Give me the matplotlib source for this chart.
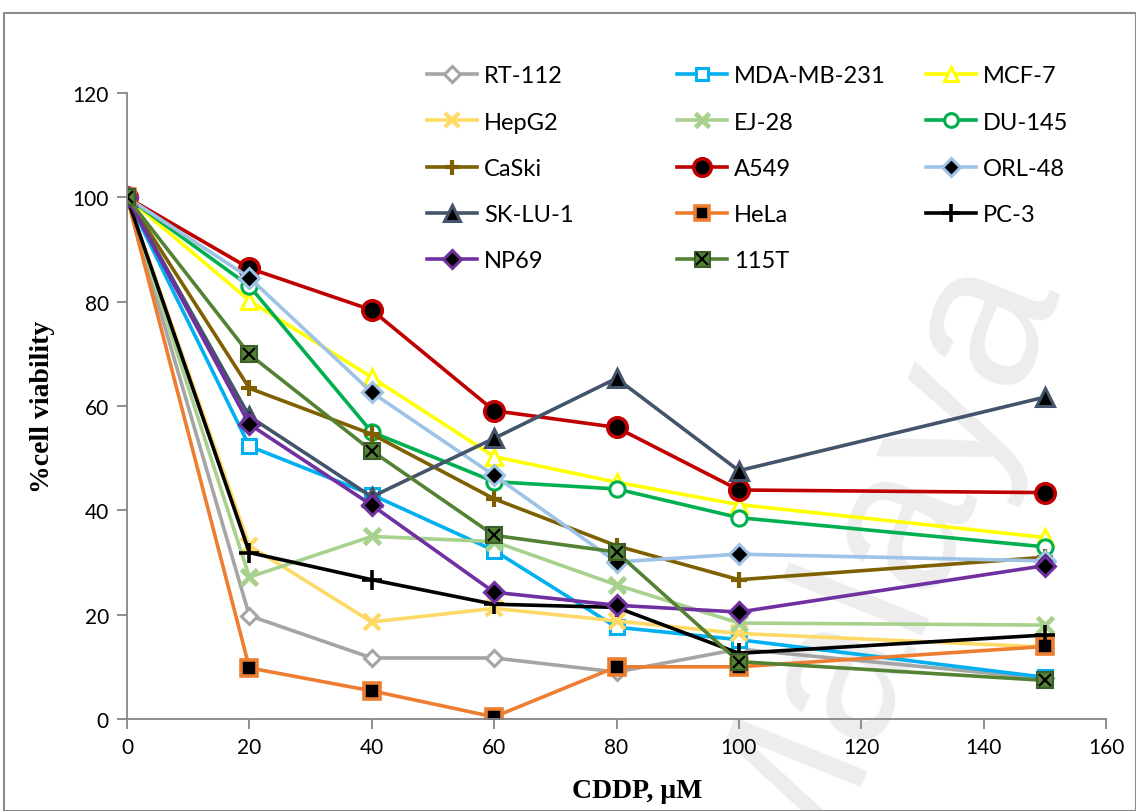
import numpy as np
import matplotlib.pyplot as plt
from matplotlib.patches import Rectangle
from matplotlib.legend_handler import HandlerTuple

# CDDP concentrations (uM)
conc = [0, 20, 40, 60, 80, 100, 150]

rt112 = [100, 19.8, 11.7, 11.7, 9.0, 13.4, 7.8]
mda231 = [100, 52.3, 43.0, 32.3, 17.6, 15.2, 8.0]
mcf7 = [100, 80.2, 65.5, 50.3, 45.4, 41.1, 34.8]
hepg2 = [100, 33.2, 18.6, 21.2, 18.8, 16.4, 13.8]
ej28 = [100, 27.2, 35.0, 34.0, 25.7, 18.4, 18.0]
du145 = [100, 83.0, 55.0, 45.5, 44.1, 38.6, 33.0]
caski = [100, 63.4, 54.6, 42.2, 33.2, 26.7, 31.0]
a549 = [100, 86.4, 78.4, 59.1, 55.9, 43.9, 43.4]
orl48 = [100, 84.6, 62.6, 46.7, 30.1, 31.6, 30.3]
sklu1 = [100, 58.0, 42.6, 53.8, 65.3, 47.6, 61.7]
hela = [100, 9.8, 5.4, 0.4, 10.0, 10.0, 13.9]
pc3 = [100, 31.9, 26.7, 22.0, 21.4, 12.6, 16.1]
np69 = [100, 56.5, 41.0, 24.3, 21.8, 20.5, 29.4]
t115 = [100, 69.9, 51.4, 35.2, 32.0, 11.0, 7.4]

plt.rcParams['font.family'] = ['Lato', 'DejaVu Sans']

fig = plt.figure(figsize=(11.36, 8.12), dpi=100)
ax = fig.add_axes([127/1136, 92/812, 979/1136, 626/812])
ax.patch.set_alpha(0)

lw = 2.6
ms = 10
mew = 2.2

# watermark, behind everything
fig.text(0.77, 0.30, "Malaya", fontsize=150, color="#ededed", rotation=68,
         ha="center", va="center", zorder=-5, family="Liberation Sans")

ax.plot(conc, rt112, color="#A5A5A5", lw=lw, marker="D", ms=ms*0.85, mfc="white", mec="#A5A5A5", mew=mew, label="RT-112")
ax.plot(conc, mda231, color="#00B0F0", lw=lw, marker="s", ms=ms, mfc="white", mec="#00B0F0", mew=mew, label="MDA-MB-231")
ax.plot(conc, mcf7, color="#FFFF00", lw=lw, marker="^", ms=ms*1.1, mfc="white", mec="#FFFF00", mew=mew, label="MCF-7")
ax.plot(conc, hepg2, color="#FFD966", lw=lw, marker="x", ms=ms*1.1, mec="#FFD966", mew=3, label="HepG2")
ax.plot(conc, ej28, color="#A9D18E", lw=lw, marker="x", ms=ms*1.1, mec="#A9D18E", mew=3.5, label="EJ-28")
ax.plot(conc, du145, color="#00B050", lw=lw, marker="o", ms=ms*1.1, mfc="white", mec="#00B050", mew=mew, label="DU-145")
ax.plot(conc, caski, color="#7F6000", lw=lw, marker="+", ms=ms*1.2, mec="#7F6000", mew=3, label="CaSki")
ax.plot(conc, a549, color="#C00000", lw=lw, marker="o", ms=ms*1.4, mfc="black", mec="#C00000", mew=2.6, label="A549")
ax.plot(conc, orl48, color="#9DC3E6", lw=lw, marker="D", ms=ms, mfc="black", mec="#9DC3E6", mew=mew, label="ORL-48")
ax.plot(conc, sklu1, color="#44546A", lw=lw, marker="^", ms=ms*1.3, mfc="black", mec="#44546A", mew=mew, label="SK-LU-1")
ax.plot(conc, hela, color="#ED7D31", lw=lw, marker="s", ms=ms*1.1, mfc="black", mec="#ED7D31", mew=2.6, label="HeLa")
ax.plot(conc, pc3, color="black", lw=lw, marker="+", ms=ms*1.5, mec="black", mew=2.6, label="PC-3")
ax.plot(conc, np69, color="#7030A0", lw=lw, marker="D", ms=ms, mfc="black", mec="#7030A0", mew=mew, label="NP69")
ax.plot(conc, t115, color="#548235", lw=lw, marker="s", ms=ms*1.2, mfc="#548235", mec="#3d5e26", mew=1.5, label="115T")
x115, = ax.plot(conc, t115, ls="none", marker="x", ms=ms*0.9, mec="black", mew=1.6)

ax.set_xlim(0, 160)
ax.set_ylim(0, 120)
ax.set_xticks(np.arange(0, 161, 20))
ax.set_yticks(np.arange(0, 121, 20))
for s in ["top", "right"]:
    ax.spines[s].set_visible(False)
for s in ["left", "bottom"]:
    ax.spines[s].set_color("#868686")
    ax.spines[s].set_linewidth(1.3)
ax.tick_params(colors="#868686", labelcolor="black", labelsize=15, length=7, width=1.3, pad=6)

ax.set_xlabel("CDDP, μM", family="Liberation Serif", fontweight="bold", fontsize=20)
ax.xaxis.set_label_coords(0.521, -0.095)
ax.set_ylabel("%cell viability", family="Liberation Serif", fontweight="bold", fontsize=20, labelpad=13)

# legend: three fixed-width columns, filled row by row like the original
handles, labels = ax.get_legend_handles_labels()
handles[-1] = (handles[-1], x115)
col_x = [406, 656, 905]
for c in range(3):
    idx = list(range(c, len(handles), 3))
    fig.legend([handles[i] for i in idx], [labels[i] for i in idx],
               loc="upper left", bbox_to_anchor=(col_x[c]/1136, 1 - 45/812),
               frameon=False, fontsize=17, handlelength=2.1, labelspacing=1.07,
               handletextpad=0.3, markerscale=0.9,
               handler_map={tuple: HandlerTuple(ndivide=1)})

fig.patches.append(Rectangle((4/1136, 0), 1 - 4/1136, 1 - 14/812, transform=fig.transFigure,
                             fill=False, edgecolor="#8c8c8c", lw=1.5, zorder=0))

fig.savefig("out.png", dpi=100)
